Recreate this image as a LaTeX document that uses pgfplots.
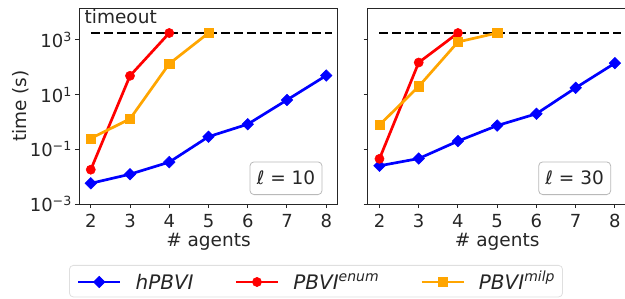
\documentclass[border=0pt]{standalone}
\usepackage{pgfplots}
\pgfplotsset{compat=1.18}
\usepackage{fontspec}
\setmainfont{DejaVu Sans}
\definecolor{fg}{HTML}{262626}
\definecolor{morange}{RGB}{255,165,0}
\newcommand\myfs[1]{\fontsize{#1bp}{#1bp}\selectfont}
\tikzset{
  stylehp/.style={blue, line width=2.7bp, mark=square*, mark size=4.1bp, mark options={rotate=45, solid, line width=0.5bp}},
  stylepe/.style={red, line width=2.7bp, mark=*, mark size=4.6bp, mark options={solid, line width=0.5bp}},
  stylepm/.style={morange, line width=2.7bp, mark=square*, mark size=4.7bp, mark options={solid, line width=0.5bp}},
  styleto/.style={black, line width=2.8bp, dash pattern=on 9bp off 4bp},
  stylebox/.style={draw=gray!55, line width=0.8bp, rounded corners=4bp, fill=white, anchor=south east,
    minimum width=72bp, minimum height=32.7bp, inner sep=0pt, font=\myfs{18.5}, text=fg},
}
\begin{document}
\begin{tikzpicture}
\begin{semilogyaxis}[at={(79bp,95bp)}, anchor=south west,
    scale only axis, width=259bp, height=196bp,
    xmin=1.7, xmax=8.3, ymin=1e-3, ymax=1.48e4,
    xtick={2,3,4,5,6,7,8}, xticklabels={2,3,4,5,6,7,8},
    ytick={1e-3,1e-1,1e1,1e3},
    yminorticks=false,
    xtick pos=left, ytick pos=left,
    tick align=outside, major tick length=4bp,
    major tick style={draw=fg, line width=1bp},
    axis line style={draw=fg, line width=1bp},
    tick label style={font=\myfs{18}, text=fg},
    xticklabel style={inner sep=0pt, anchor=north, yshift=-6bp},
    yticklabel style={inner sep=0pt, anchor=east, xshift=-3bp},
    xlabel={\# agents},
    xlabel style={font=\myfs{18.5}, text=fg, at={(axis description cs:0.5,-0.218)}, anchor=base, inner sep=0pt},
    clip=false,
  yticklabels={10\textsuperscript{−3},10\textsuperscript{−1},10\textsuperscript{1},10\textsuperscript{3}},
  ylabel={time (s)},
  ylabel style={font=\myfs{18.5}, text=fg, at={(axis description cs:-0.226,0.5)}, anchor=center, inner sep=0pt},
  legend columns=3,
  legend style={at={(axis description cs:-0.0386,-0.311)}, anchor=north west,
    draw=gray!25, line width=0.8bp, rounded corners=4bp, fill=white,
    font=\myfs{20}\itshape, text=fg, inner xsep=7.5bp, inner ysep=6bp,
    nodes={inner sep=0pt, anchor=base west},
    /tikz/every odd column/.append style={column sep=14bp},
    /tikz/every even column/.append style={column sep=41bp}},
  legend image code/.code={\draw[mark repeat=2,mark phase=2,#1] plot coordinates {(0bp,7.5bp)(21bp,7.5bp)(42bp,7.5bp)};},
]
\addplot[styleto, forget plot] coordinates {(2,1800) (8.15,1800)};
\addplot[stylehp] coordinates {(2,0.0057) (3,0.0123) (4,0.034) (5,0.29) (6,0.83) (7,6.4) (8,50)};
\addlegendentry{hPBVI}
\addplot[stylepe] coordinates {(2,0.018) (3,49) (4,1800)};
\addlegendentry{PBVI\textsuperscript{enum}}
\addplot[stylepm] coordinates {(2,0.25) (3,1.3) (4,135) (5,1800)};
\addlegendentry{PBVI\textsuperscript{milp}}
\node[anchor=base west, inner sep=0pt, font=\myfs{18.5}, text=fg] at (axis cs:1.84,3850) {timeout};
\node[stylebox] at ([xshift=-15.6bp,yshift=9bp]rel axis cs:1,0) {ℓ = 10};
\end{semilogyaxis}
\begin{semilogyaxis}[at={(367.7bp,95bp)}, anchor=south west,
    scale only axis, width=259bp, height=196bp,
    xmin=1.7, xmax=8.3, ymin=1e-3, ymax=1.48e4,
    xtick={2,3,4,5,6,7,8}, xticklabels={2,3,4,5,6,7,8},
    ytick={1e-3,1e-1,1e1,1e3},
    yminorticks=false,
    xtick pos=left, ytick pos=left,
    tick align=outside, major tick length=4bp,
    major tick style={draw=fg, line width=1bp},
    axis line style={draw=fg, line width=1bp},
    tick label style={font=\myfs{18}, text=fg},
    xticklabel style={inner sep=0pt, anchor=north, yshift=-6bp},
    yticklabel style={inner sep=0pt, anchor=east, xshift=-3bp},
    xlabel={\# agents},
    xlabel style={font=\myfs{18.5}, text=fg, at={(axis description cs:0.5,-0.218)}, anchor=base, inner sep=0pt},
    clip=false,
  yticklabels={,,,},
]
\addplot[styleto] coordinates {(2,1800) (8.15,1800)};
\addplot[stylehp] coordinates {(2,0.025) (3,0.046) (4,0.2) (5,0.74) (6,2.0) (7,17.8) (8,142)};
\addplot[stylepe] coordinates {(2,0.045) (3,150) (4,1800)};
\addplot[stylepm] coordinates {(2,0.78) (3,20) (4,850) (5,1800)};
\node[stylebox] at ([xshift=-15.6bp,yshift=9bp]rel axis cs:1,0) {ℓ = 30};
\end{semilogyaxis}
\pgfresetboundingbox
\path[use as bounding box] (0,0) rectangle (625bp,299bp);
\end{tikzpicture}
\end{document}
